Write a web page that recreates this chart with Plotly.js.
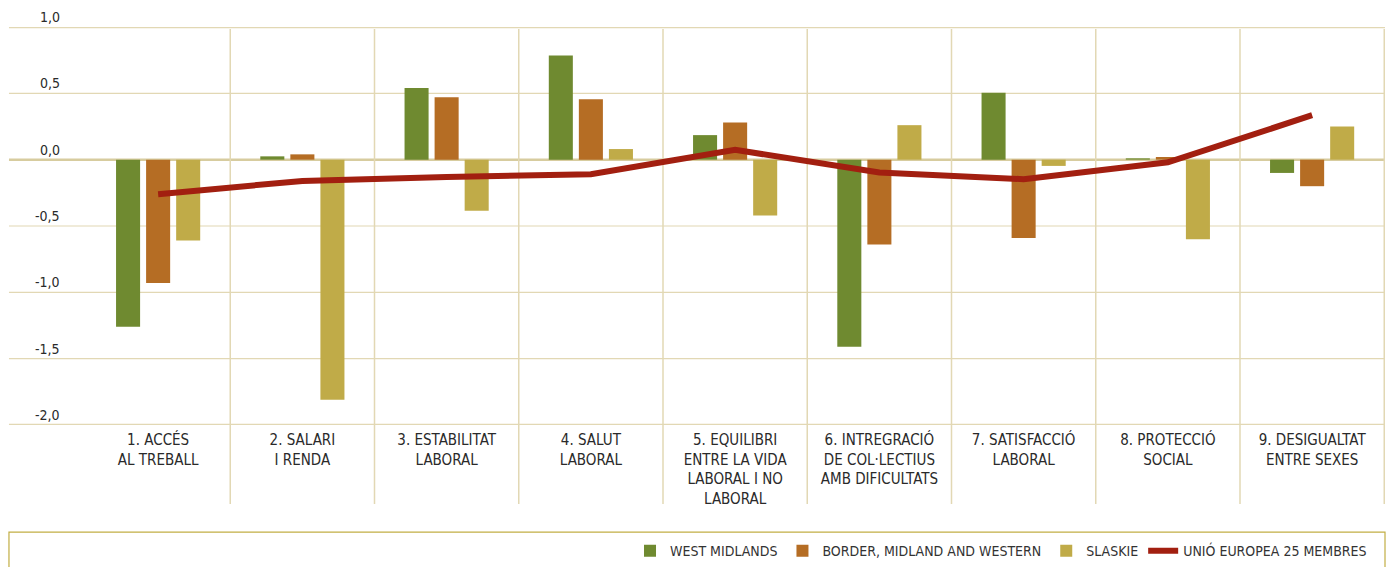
<!DOCTYPE html>
<html>
<head>
<meta charset="utf-8">
<script src="https://cdn.plot.ly/plotly-3.0.1.min.js"></script>
<style>html,body{margin:0;padding:0;background:#fff;}#chart{width:1391px;height:567px;}</style>
</head>
<body>
<div id="chart"></div>
<script>
const categories = [
  "1. ACCÉS<br>AL TREBALL",
  "2. SALARI<br>I RENDA",
  "3. ESTABILITAT<br>LABORAL",
  "4. SALUT<br>LABORAL",
  "5. EQUILIBRI<br>ENTRE LA VIDA<br>LABORAL I NO<br>LABORAL",
  "6. INTREGRACIÓ<br>DE COL·LECTIUS<br>AMB DIFICULTATS",
  "7. SATISFACCIÓ<br>LABORAL",
  "8. PROTECCIÓ<br>SOCIAL",
  "9. DESIGUALTAT<br>ENTRE SEXES"
];
const westMidlands = [-1.26, 0.025, 0.54, 0.785, 0.185, -1.41, 0.505, 0.01, -0.10];
const borderMidlandWestern = [-0.93, 0.04, 0.47, 0.455, 0.28, -0.64, -0.59, 0.02, -0.20];
const slaskie = [-0.61, -1.81, -0.385, 0.08, -0.42, 0.26, -0.047, -0.60, 0.25];
const ue25 = [-0.26, -0.16, -0.13, -0.11, 0.074, -0.096, -0.147, -0.02, 0.335];
const yTickValues = [1.0, 0.5, 0.0, -0.5, -1.0, -1.5, -2.0];
const yTickLabels = ["1,0", "0,5", "0,0", "-0,5", "-1,0", "-1,5", "-2,0"];
const seriesNames = ["WEST MIDLANDS", "BORDER, MIDLAND AND WESTERN", "SLASKIE", "UNIÓ EUROPEA 25 MEMBRES"];

const FONT = '"Liberation Sans Narrow", "DejaVu Sans Condensed", "Roboto", sans-serif';
const gridColor = '#e2d8b4';

const traces = [
  {type: 'bar', name: seriesNames[0], x: categories, y: westMidlands, marker: {color: '#6f8a30'}},
  {type: 'bar', name: seriesNames[1], x: categories, y: borderMidlandWestern, marker: {color: '#b56d24'}},
  {type: 'bar', name: seriesNames[2], x: categories, y: slaskie, marker: {color: '#c0ab48'}},
  {type: 'scatter', mode: 'lines', name: seriesNames[3], x: categories, y: ue25,
   line: {color: '#a21f10', width: 6}}
];

const shapes = [];
yTickValues.forEach(v => {
  const thick = (v === 0 || v === 1 || v === -2);
  shapes.push({type: 'line', xref: 'paper', yref: 'y', x0: -0.0593, x1: 1, y0: v, y1: v,
    line: {color: v === 0 ? '#d7cc9f' : gridColor, width: thick ? 2.5 : 1.2}, layer: 'below'});
});
for (let i = 0; i < categories.length; i++) {
  const xb = i + 0.5;
  shapes.push({type: 'line', xref: 'x', yref: 'paper', x0: xb, x1: xb, y0: -0.1985, y1: 0.995,
    line: {color: gridColor, width: 1.5}, layer: 'below'});
}
shapes.push({type: 'rect', xref: 'paper', yref: 'paper', x0: -0.0593, x1: 1.0, y0: -0.269, y1: -0.6,
  line: {color: '#c2ae44', width: 1.2}, fillcolor: 'rgba(0,0,0,0)', layer: 'below'});

const annotations = yTickValues.map((v, i) => ({
  xref: 'paper', yref: 'y', x: -0.0185, y: v, xanchor: 'right', yanchor: 'bottom',
  yshift: 0, text: yTickLabels[i], showarrow: false,
  font: {family: FONT, size: 14, color: '#2a2a2a'}
}));

const layout = {
  width: 1391, height: 567,
  margin: {l: 86, r: 6, t: 27, b: 142, autoexpand: false},
  paper_bgcolor: '#fff', plot_bgcolor: 'rgba(0,0,0,0)',
  barmode: 'group', bargap: 0.375, bargroupgap: 0.2,
  showlegend: true,
  legend: {orientation: 'h', x: 0.99, xanchor: 'right', y: -0.317, yanchor: 'middle',
    font: {family: FONT, size: 14, color: '#333'}, traceorder: 'normal', bgcolor: 'rgba(0,0,0,0)'},
  xaxis: {type: 'category', showgrid: false, zeroline: false, showline: false, ticks: '',
    automargin: false, ticklabelstandoff: 4,
    tickfont: {family: FONT, size: 15, color: '#2a2a2a'}, fixedrange: true},
  yaxis: {range: [-2, 1], showgrid: false, zeroline: false, showline: false, automargin: false,
    showticklabels: false, ticks: '', fixedrange: true},
  shapes: shapes,
  annotations: annotations
};

Plotly.newPlot('chart', traces, layout, {displayModeBar: false, staticPlot: true});
</script>
</body>
</html>
